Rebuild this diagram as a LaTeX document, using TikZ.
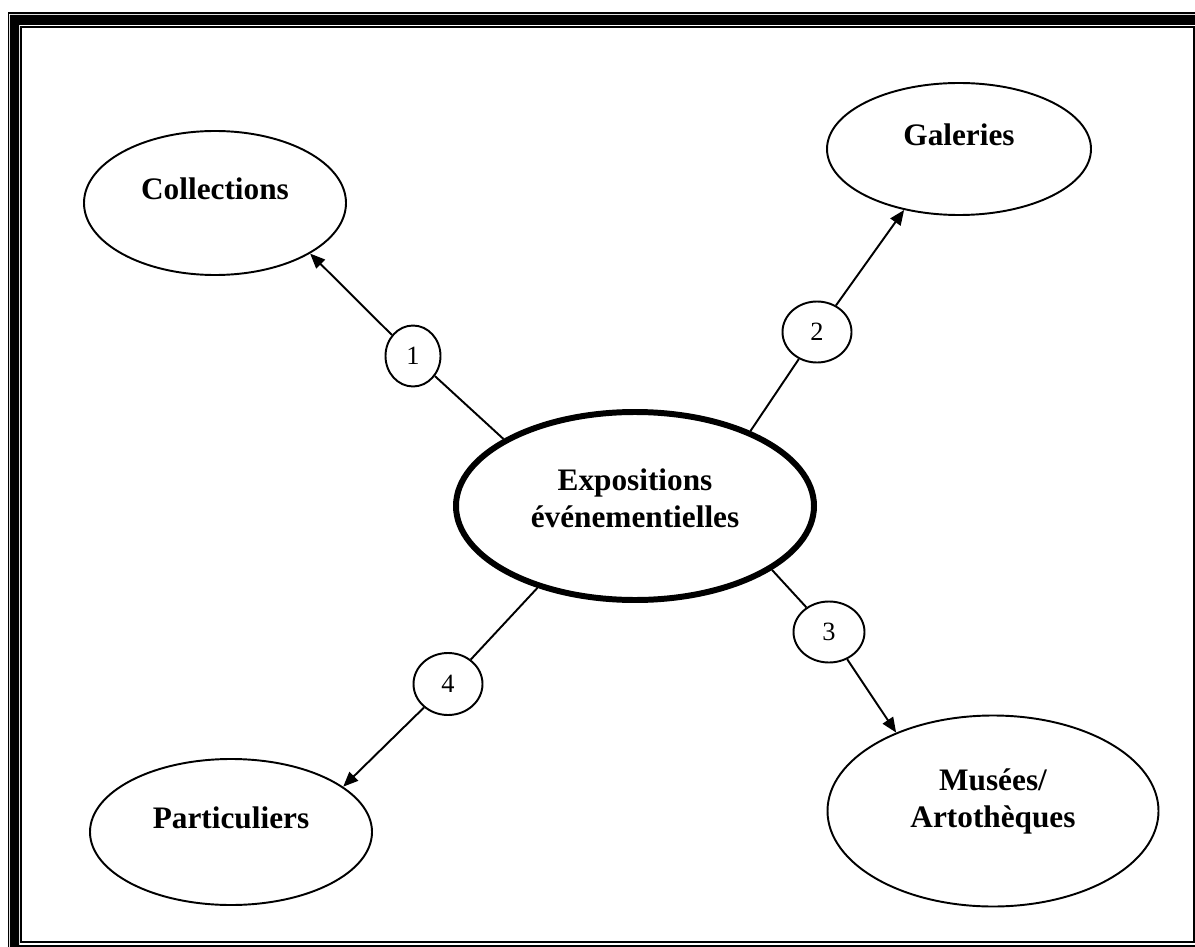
\documentclass[tikz,border=0pt]{standalone}
\usepackage{fontspec}
\setmainfont{Liberation Serif}
\usetikzlibrary{shapes.geometric,arrows.meta}

\begin{document}
\begin{tikzpicture}[
  bulle/.style={draw, ellipse, line width=1.1pt, align=center,
    font=\fontsize{17.8}{21.3}\selectfont\bfseries, text height=12pt, text depth=16pt},
  pastille/.style={draw, ellipse, line width=1.1pt, inner sep=0pt,
    font=\fontsize{15}{18}\selectfont, minimum width=1.38cm, minimum height=1.22cm},
  lien/.style={line width=1.1pt},
  fleche/.style={line width=1.1pt, -{Triangle[length=8.5pt,width=7pt]}}
]
  \useasboundingbox (0cm,0cm) rectangle (23.9cm,-18.94cm);
  \clip (0cm,0cm) rectangle (23.9cm,-18.94cm);
  \draw[line width=1.13pt] (0.17cm,-0.26cm) rectangle (24.6cm,-19.6cm);
  \fill[even odd rule] (0.2cm,-0.3cm) rectangle (24.4cm,-19.4cm) (0.38cm,-0.5cm) rectangle (23.94cm,-18.9cm);
  \draw[line width=1.13pt] (0.42cm,-0.54cm) rectangle (23.88cm,-18.84cm);

  \node[bulle, line width=3.4pt, minimum width=7.16cm, minimum height=3.76cm, text height=33.3pt, text depth=8.9pt] (expo) at (12.7cm,-10.12cm) {Expositions\\événementielles};
  \node[bulle, minimum width=5.24cm, minimum height=2.88cm] (coll) at (4.3cm,-4.06cm) {Collections};
  \node[bulle, minimum width=5.28cm, minimum height=2.64cm] (gal) at (19.18cm,-2.98cm) {Galeries};
  \node[bulle, minimum width=6.62cm, minimum height=3.82cm, text height=33.3pt, text depth=14.5pt] (musees) at (19.86cm,-16.22cm) {Musées/\\Artothèques};
  \node[bulle, minimum width=5.64cm, minimum height=2.92cm] (part) at (4.62cm,-16.64cm) {Particuliers};

  \node[pastille, minimum width=1.1cm] (n1) at (8.26cm,-7.12cm) {1};
  \node[pastille] (n2) at (16.34cm,-6.64cm) {2};
  \node[pastille, minimum width=1.42cm] (n3) at (16.58cm,-12.64cm) {3};
  \node[pastille, minimum height=1.24cm] (n4) at (8.96cm,-13.68cm) {4};

  \draw[lien] (expo.153) -- (n1);
  \draw[fleche] (n1) -- (coll.332);
  \draw[lien] (expo.33) -- (n2);
  \draw[fleche] (n2) -- (gal.228);
  \draw[lien] (expo.335) -- (n3);
  \draw[fleche] (n3) -- (musees.141);
  \draw[lien] (expo.220) -- (n4);
  \draw[fleche] (n4) -- (part.22);
\end{tikzpicture}
\end{document}
